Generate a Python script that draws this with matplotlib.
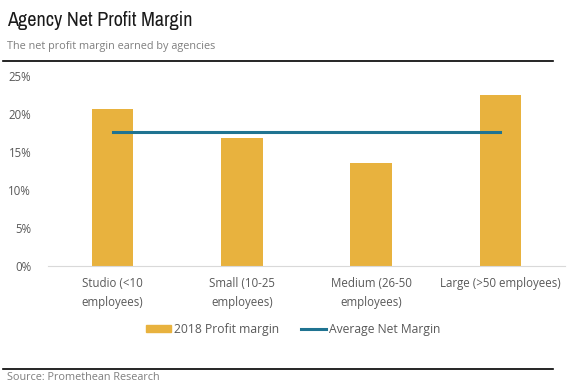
import matplotlib.pyplot as plt
from matplotlib.lines import Line2D
from matplotlib.patches import Patch
from matplotlib import font_manager

categories = ['Studio (<10\nemployees)', 'Small (10-25\nemployees)',
              'Medium (26-50\nemployees)', 'Large (>50 employees)']
profit_2018 = [20.7, 16.8, 13.5, 22.5]
average_margin = [17.6, 17.6, 17.6, 17.6]
y_ticks = [0, 5, 10, 15, 20, 25]

bar_color = '#E8B23E'
line_color = '#1F7391'
text_grey = '#595959'

plt.rcParams['font.family'] = ['Open Sans', 'DejaVu Sans']

# a narrow family for the title if there is one
names = sorted({f.name for f in font_manager.fontManager.ttflist})
narrow = [n for n in names if 'Narrow' in n or 'Condensed' in n]
title_family = narrow[0] if narrow else 'DejaVu Sans'

fig = plt.figure(figsize=(5.67, 3.91), dpi=100)
ax = fig.add_axes([48 / 567, 1 - 266 / 391, (565 - 48) / 567, (266 - 76) / 391])

x = list(range(len(categories)))
ax.bar(x, profit_2018, width=0.32, color=bar_color, zorder=2)
ax.plot(x, average_margin, color=line_color, linewidth=2.2, zorder=3)

ax.set_xlim(-0.5, 3.5)
ax.set_ylim(0, 25)
ax.set_yticks(y_ticks)
ax.set_yticklabels([f'{v}%' for v in y_ticks])
ax.set_xticks(x)
ax.set_xticklabels(categories, linespacing=1.6)
ax.tick_params(axis='both', length=0, labelsize=8.3, colors=text_grey, pad=8)
ax.tick_params(axis='y', pad=12)
for s in ['top', 'right', 'left']:
    ax.spines[s].set_visible(False)
ax.spines['bottom'].set_color('#D9D9D9')

handles = [Patch(color=bar_color, label='2018 Profit margin'),
           Line2D([0], [0], color=line_color, linewidth=2.2, label='Average Net Margin')]
fig.legend(handles=handles, loc='center', bbox_to_anchor=(0.517, 1 - 329 / 391), ncol=2,
           frameon=False, fontsize=8.7, handlelength=2.1, handleheight=0.5,
           columnspacing=1.8, handletextpad=0.25, labelcolor=text_grey)

# title block
fig.text(7 / 567, 1 - 21 / 391, 'Agency Net Profit Margin', fontsize=14.5,
         family=title_family, fontstretch='condensed',
         color='#1a1a1a', va='center')
fig.text(7 / 567, 1 - 47 / 391, 'The net profit margin earned by agencies',
         fontsize=7.8, color='#7f7f7f', va='center')
fig.add_artist(Line2D([3 / 567, 553 / 567], [1 - 61 / 391, 1 - 61 / 391],
                      color='black', linewidth=1.2))
fig.add_artist(Line2D([3 / 567, 553 / 567], [1 - 369 / 391, 1 - 369 / 391],
                      color='black', linewidth=1.2))
fig.text(7 / 567, 1 - 378 / 391, 'Source: Promethean Research',
         fontsize=7.8, color='#7f7f7f', va='center')

fig.savefig('out.png', dpi=100)
